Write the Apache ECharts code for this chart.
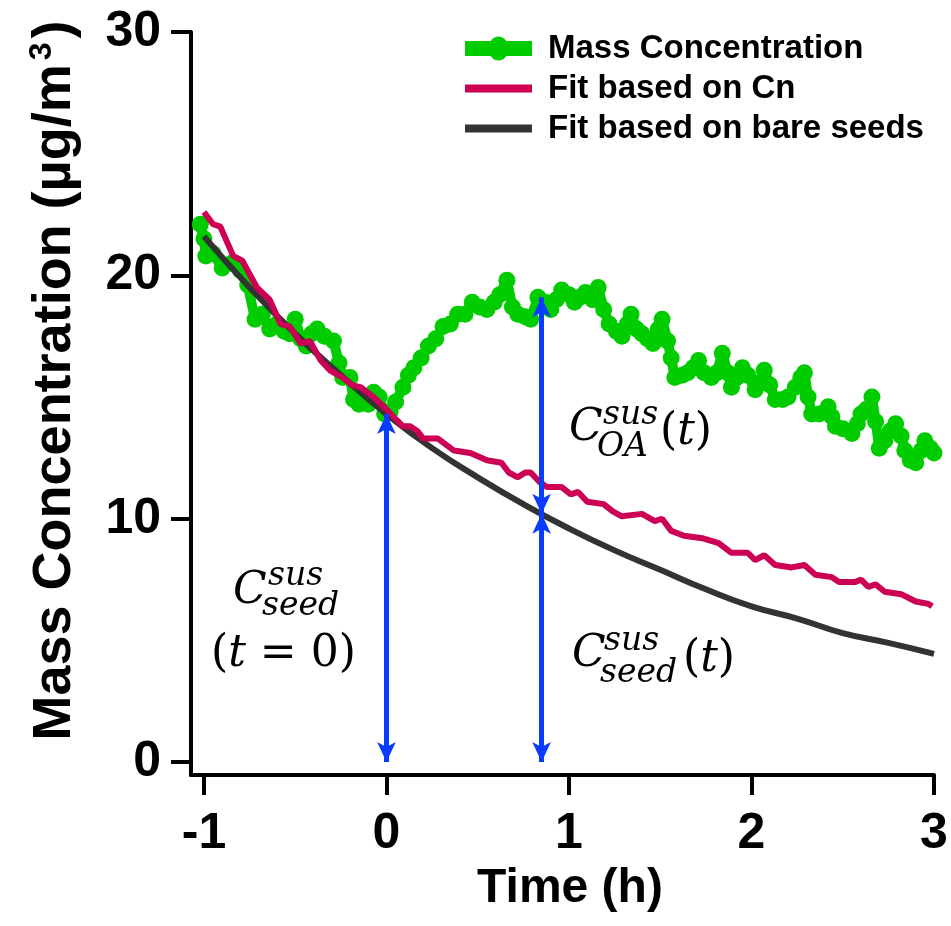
<!DOCTYPE html>
<html><head><meta charset="utf-8">
<script src="https://cdn.jsdelivr.net/npm/echarts@6/dist/echarts.min.js"></script>
<style>html,body{margin:0;padding:0;background:#fff}#main{width:951px;height:926px}</style>
</head><body><div id="main"></div>
<script>
const xTicks = [-1, 0, 1, 2, 3];
const yTicks = [0, 10, 20, 30];

const massTime = [-1.02,-1.0,-0.99,-0.95,-0.9,-0.85,-0.8,-0.76,-0.72,-0.68,-0.64,-0.6,-0.56,-0.53,-0.5,-0.47,-0.44,-0.41,-0.38,-0.34,-0.29,-0.26,-0.24,-0.2,-0.18,-0.15,-0.1,-0.07,-0.04,-0.01,0.02,0.05,0.09,0.12,0.15,0.19,0.23,0.27,0.31,0.35,0.39,0.43,0.47,0.51,0.55,0.59,0.62,0.66,0.69,0.72,0.76,0.79,0.83,0.87,0.9,0.93,0.96,1.0,1.03,1.06,1.09,1.13,1.16,1.19,1.22,1.26,1.29,1.32,1.34,1.37,1.4,1.43,1.46,1.49,1.51,1.54,1.56,1.58,1.62,1.65,1.68,1.71,1.74,1.78,1.81,1.84,1.87,1.89,1.92,1.95,1.98,2.02,2.05,2.07,2.1,2.13,2.17,2.2,2.24,2.27,2.29,2.31,2.33,2.37,2.42,2.44,2.46,2.5,2.55,2.58,2.6,2.63,2.66,2.68,2.7,2.73,2.76,2.79,2.82,2.84,2.87,2.9,2.93,2.95,2.98,3.0];
const massValue = [22.1,21.5,20.8,20.9,20.3,20.5,20.2,19.6,18.2,18.4,17.8,18.0,17.7,17.6,18.2,17.4,17.1,17.6,17.8,17.5,17.3,16.4,15.8,15.8,14.9,14.7,14.7,15.2,15.0,14.3,14.4,14.8,15.4,15.9,16.2,16.6,17.1,17.4,17.9,18.0,18.4,18.4,18.9,18.7,18.6,18.9,19.2,19.8,18.7,18.4,18.3,18.2,19.1,18.9,18.6,19.0,19.4,19.2,18.9,19.1,19.3,19.0,19.5,18.6,18.0,17.7,17.5,18.0,18.4,17.8,17.6,17.4,17.2,17.8,18.2,17.3,16.6,15.8,15.9,16.0,16.2,16.5,16.0,15.8,16.0,16.8,16.0,15.4,15.8,16.2,15.9,15.3,15.6,16.1,15.5,14.9,14.9,15.0,15.4,15.8,16.0,15.0,14.3,14.3,14.6,14.2,13.8,13.7,13.5,13.9,14.3,14.5,15.0,14.0,12.9,13.2,13.6,13.9,13.4,12.8,12.4,12.3,12.8,13.2,12.9,12.7];

const cnTime = [-1.0,-0.95,-0.91,-0.84,-0.79,-0.71,-0.64,-0.58,-0.53,-0.47,-0.42,-0.36,-0.31,-0.24,-0.19,-0.14,-0.07,0.0,0.05,0.09,0.13,0.17,0.2,0.28,0.37,0.46,0.55,0.63,0.67,0.72,0.76,0.79,0.84,0.88,0.96,1.01,1.05,1.1,1.19,1.24,1.29,1.4,1.47,1.51,1.56,1.63,1.73,1.82,1.89,1.98,2.02,2.07,2.13,2.22,2.29,2.35,2.44,2.48,2.57,2.6,2.64,2.68,2.73,2.82,2.9,2.97,2.99];
const cnValue = [22.6,22.1,22.0,20.8,20.6,19.5,19.0,18.0,17.9,17.2,17.3,16.5,16.1,15.8,15.5,15.4,15.0,14.5,14.1,13.8,13.8,13.6,13.3,13.3,12.8,12.7,12.4,12.3,11.9,11.7,11.9,11.9,11.5,11.3,11.3,11.0,11.1,10.7,10.6,10.3,10.1,10.2,9.9,10.0,9.5,9.3,9.2,9.0,8.6,8.6,8.3,8.5,8.1,8.0,8.1,7.7,7.6,7.4,7.4,7.5,7.2,7.3,7.0,6.9,6.6,6.5,6.4];

const seedTime = [-1.0,-0.75,-0.5,-0.25,0.0,0.25,0.5,0.75,1.0,1.25,1.5,1.75,2.0,2.25,2.5,2.75,3.0];
const seedValue = [21.6,19.5,17.6,15.9,14.3,12.9,11.7,10.6,9.6,8.7,7.9,7.1,6.4,5.9,5.3,4.9,4.45];

const arrowX = [0, 0.85, 0.85];
const arrowFrom = [0, 0, 10.2];
const arrowTo = [14.3, 10.2, 19.1];

const seriesNames = ['Mass Concentration', 'Fit based on Cn', 'Fit based on bare seeds'];

const zip = (a, b) => a.map((v, i) => [v, b[i]]);
const SANS = '"Liberation Sans", Arial, sans-serif';
const SERIF = '"DejaVu Serif", serif';

function txt(text, x, y, size, italic) {
  return { type: 'text', x: x, y: y, z: 100,
    style: { text: text, font: (italic ? 'italic ' : '') + size + 'px ' + SERIF, fill: '#000',
      textAlign: 'left', textVerticalAlign: 'middle' } };
}
function richParen(inner, x, y, size) {
  return { type: 'text', x: x, y: y, z: 100,
    style: { text: inner, textAlign: 'left', textVerticalAlign: 'middle', fill: '#000',
      rich: { u: { font: size + 'px ' + SERIF, fill: '#000' }, i: { font: 'italic ' + size + 'px ' + SERIF, fill: '#000' } } } };
}

const barIcon = 'path://M0,0H0.01V0.01H0Z M0,8H67V16H0Z M66.99,23.99H67V24H66.99Z';
const dotIcon = 'path://M0,4.5H67V19.5H0Z M33.5,0A10,12 0 1,1 33.5,24A10,12 0 1,1 33.5,0Z';

const chart = echarts.init(document.getElementById('main'), null, { renderer: 'canvas' });
chart.setOption({
  animation: false,
  backgroundColor: '#fff',
  grid: { left: 191, right: 17, top: 32, bottom: 151 },
  legend: {
    data: [
      { name: seriesNames[0], icon: dotIcon, itemStyle: { color: '#00cc00' } },
      { name: seriesNames[1], icon: barIcon, itemStyle: { color: '#cc0055' } },
      { name: seriesNames[2], icon: barIcon, itemStyle: { color: '#333333' } }
    ],
    orient: 'vertical', left: 460, top: 27, itemGap: 7,
    itemWidth: 67, itemHeight: 24,
    textStyle: { fontFamily: SANS, fontWeight: 'bold', fontSize: 33, color: '#000', padding: [0, 0, 0, 11] }
  },
  xAxis: {
    type: 'value', min: -1.071, max: 3,
    name: 'Time (h)', nameLocation: 'middle', nameGap: 90,
    nameTextStyle: { fontFamily: SANS, fontWeight: 'bold', fontSize: 48, color: '#000', padding: [0, 0, 0, 15] },
    axisLine: { onZero: false, lineStyle: { color: '#000', width: 4 } },
    axisTick: { show: true, length: 20, lineStyle: { color: '#000', width: 4 }, customValues: xTicks },
    axisLabel: { fontFamily: SANS, fontWeight: 'bold', fontSize: 50, color: '#000', margin: 34, customValues: xTicks },
    splitLine: { show: false }
  },
  yAxis: {
    type: 'value', min: -0.53, max: 30,
    name: '{a|Mass Concentration (µg/m}{s|3}{a|)}', nameLocation: 'middle', nameGap: 107,
    nameTextStyle: { padding: [0, 0, 0, 46], rich: { a: { fontFamily: SANS, fontWeight: 'bold', fontSize: 54, color: '#000' },
                             s: { fontFamily: SANS, fontWeight: 'bold', fontSize: 32, color: '#000', verticalAlign: 'top', padding: [0, 4, 26, 4] } } },
    axisLine: { onZero: false, lineStyle: { color: '#000', width: 4 } },
    axisTick: { show: true, length: 20, lineStyle: { color: '#000', width: 4 }, customValues: yTicks },
    axisLabel: { fontFamily: SANS, fontWeight: 'bold', fontSize: 50, color: '#000', margin: 30, customValues: yTicks },
    splitLine: { show: false }
  },
  series: [
    { name: seriesNames[0], type: 'line', data: zip(massTime, massValue), z: 2,
      symbol: 'circle', symbolSize: 17, showSymbol: true,
      itemStyle: { color: '#00cc00' }, lineStyle: { color: '#00cc00', width: 10 } },
    { name: seriesNames[2], type: 'line', data: zip(seedTime, seedValue), z: 3, smooth: true,
      showSymbol: false, symbol: 'none',
      itemStyle: { color: '#333333' }, lineStyle: { color: '#333333', width: 6 } },
    { name: seriesNames[1], type: 'line', data: zip(cnTime, cnValue), z: 4,
      showSymbol: false, symbol: 'none',
      itemStyle: { color: '#cc0055' }, lineStyle: { color: '#cc0055', width: 6 } },
    { name: 'arrows', type: 'scatter', data: [], z: 5,
      markLine: { silent: true, symbol: ['arrow', 'arrow'], symbolSize: [14, 20], animation: false,
        label: { show: false },
        lineStyle: { color: '#0a3cff', width: 5, type: 'solid' },
        emphasis: { disabled: true },
        data: arrowX.map((x, i) => [{ coord: [x, arrowFrom[i]] }, { coord: [x, arrowTo[i]] }]) } }
  ],
  graphic: [
    txt('C', 233, 592, 44, true), txt('sus', 268, 576, 33, true), txt('seed', 262, 606, 33, true),
    richParen('{u|(}{i|t}{u| = 0)}', 211, 655, 44),
    txt('C', 569, 429, 44, true), txt('sus', 603, 415, 33, true), txt('OA', 597, 447, 33, true),
    richParen('{u|(}{i|t}{u|)}', 660, 433, 44),
    txt('C', 572, 655, 44, true), txt('sus', 604, 641, 33, true), txt('seed', 600, 673, 33, true),
    richParen('{u|(}{i|t}{u|)}', 683, 660, 44)
  ]
});
</script></body></html>
